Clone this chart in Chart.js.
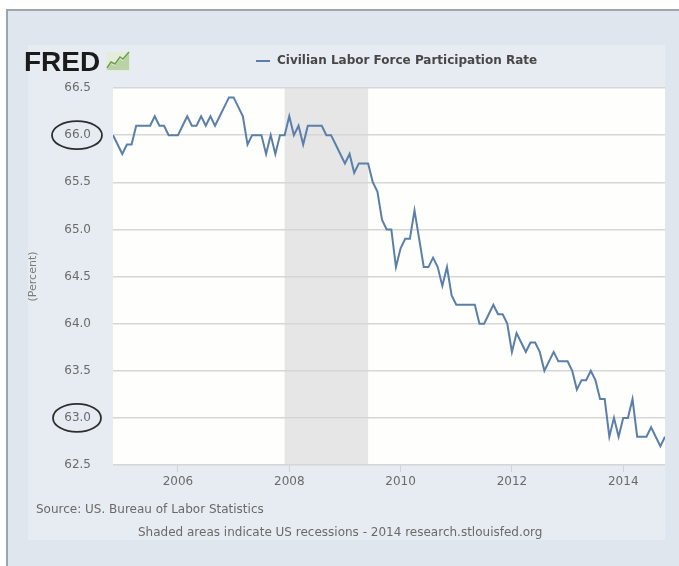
<!DOCTYPE html>
<html>
<head>
<meta charset="utf-8">
<script src="https://cdn.jsdelivr.net/npm/chart.js@4.4.1/dist/chart.umd.min.js"></script>
<style>
  html, body { margin: 0; padding: 0; background: #fff; }
  canvas { display: block; }
</style>
</head>
<body>
<canvas id="chart" width="679" height="566"></canvas>
<script>
// monthly civilian labor force participation rate, Nov 2004 - Oct 2014
const rate2004 = [66.0, 65.9];
const rate2005 = [65.8, 65.9, 65.9, 66.1, 66.1, 66.1, 66.1, 66.2, 66.1, 66.1, 66.0, 66.0];
const rate2006 = [66.0, 66.1, 66.2, 66.1, 66.1, 66.2, 66.1, 66.2, 66.1, 66.2, 66.3, 66.4];
const rate2007 = [66.4, 66.3, 66.2, 65.9, 66.0, 66.0, 66.0, 65.8, 66.0, 65.8, 66.0, 66.0];
const rate2008 = [66.2, 66.0, 66.1, 65.9, 66.1, 66.1, 66.1, 66.1, 66.0, 66.0, 65.9, 65.8];
const rate2009 = [65.7, 65.8, 65.6, 65.7, 65.7, 65.7, 65.5, 65.4, 65.1, 65.0, 65.0, 64.6];
const rate2010 = [64.8, 64.9, 64.9, 65.2, 64.9, 64.6, 64.6, 64.7, 64.6, 64.4, 64.6, 64.3];
const rate2011 = [64.2, 64.2, 64.2, 64.2, 64.2, 64.0, 64.0, 64.1, 64.2, 64.1, 64.1, 64.0];
const rate2012 = [63.7, 63.9, 63.8, 63.7, 63.8, 63.8, 63.7, 63.5, 63.6, 63.7, 63.6, 63.6];
const rate2013 = [63.6, 63.5, 63.3, 63.4, 63.4, 63.5, 63.4, 63.2, 63.2, 62.8, 63.0, 62.8];
const rate2014 = [63.0, 63.0, 63.2, 62.8, 62.8, 62.8, 62.9, 62.8, 62.7, 62.8];

const startYear = 2004, startMonth = 11; // first observation
const xTicks = [2006, 2008, 2010, 2012, 2014];
const xTickLabels = ['2006', '2008', '2010', '2012', '2014'];
const yTicks = [62.5, 63.0, 63.5, 64.0, 64.5, 65.0, 65.5, 66.0, 66.5];
const circledTicks = [66.0, 63.0];
const recession = [2007 + 11 / 12, 2009 + 5 / 12]; // Dec 2007 - Jun 2009

const seriesName = 'Civilian Labor Force Participation Rate';
const sourceText = 'Source: US. Bureau of Labor Statistics';
const noteText = 'Shaded areas indicate US recessions - 2014 research.stlouisfed.org';

const allRates = [].concat(rate2004, rate2005, rate2006, rate2007, rate2008, rate2009,
  rate2010, rate2011, rate2012, rate2013, rate2014);
const points = allRates.map((v, i) => ({ x: startYear + (startMonth - 1 + i) / 12, y: v }));

const lineColor = '#5a7fa9';
const font = 'DejaVu Sans';

// backgrounds, recession band, logo, legend, footer, circled labels
const fredDecor = {
  id: 'fredDecor',
  beforeDraw(chart) {
    const { ctx, chartArea: a, scales: { x } } = chart;
    ctx.save();
    ctx.fillStyle = '#ffffff';
    ctx.fillRect(0, 0, chart.width, chart.height);
    // outer frame
    ctx.fillStyle = '#dfe6ed';
    ctx.fillRect(7, 10, chart.width, chart.height);
    ctx.strokeStyle = '#9da6ae';
    ctx.lineWidth = 2;
    ctx.beginPath();
    ctx.moveTo(7, chart.height); ctx.lineTo(7, 10); ctx.lineTo(chart.width, 10);
    ctx.stroke();
    // inner panel
    ctx.fillStyle = '#e6ecf2';
    ctx.fillRect(28, 45, a.right - 28, 495);
    // plot area
    ctx.fillStyle = '#fefefc';
    ctx.fillRect(a.left, a.top, a.right - a.left, a.bottom - a.top);
    // recession
    const r0 = x.getPixelForValue(recession[0]);
    const r1 = x.getPixelForValue(recession[1]);
    ctx.fillStyle = '#e6e6e6';
    ctx.fillRect(r0, a.top, r1 - r0, a.bottom - a.top);
    ctx.restore();
  },
  afterDraw(chart) {
    const { ctx, scales: { y } } = chart;
    ctx.save();
    // logo
    ctx.fillStyle = '#1b1b1b';
    ctx.font = 'bold 28px "Liberation Sans"';
    ctx.textBaseline = 'alphabetic';
    ctx.textAlign = 'left';
    ctx.fillText('FRED', 24, 71);
    // little chart icon
    ctx.fillStyle = '#e4ecdc';
    ctx.fillRect(106, 52, 24, 19);
    ctx.fillStyle = '#b9d3a6';
    ctx.beginPath();
    ctx.moveTo(107, 70); ctx.lineTo(111, 64); ctx.lineTo(115, 66); ctx.lineTo(120, 59);
    ctx.lineTo(123, 61); ctx.lineTo(129, 53); ctx.lineTo(129, 70); ctx.closePath();
    ctx.fill();
    ctx.strokeStyle = '#6aa04a';
    ctx.lineWidth = 1.5;
    ctx.beginPath();
    ctx.moveTo(107, 68); ctx.lineTo(111, 62); ctx.lineTo(115, 64); ctx.lineTo(120, 57);
    ctx.lineTo(123, 59); ctx.lineTo(129, 52);
    ctx.stroke();
    // legend
    ctx.strokeStyle = lineColor;
    ctx.lineWidth = 2;
    ctx.beginPath();
    ctx.moveTo(256, 61); ctx.lineTo(270, 61);
    ctx.stroke();
    ctx.fillStyle = '#474747';
    ctx.font = 'bold 12px ' + font;
    ctx.textBaseline = 'middle';
    ctx.fillText(seriesName, 277, 61);
    // footer
    ctx.fillStyle = '#6a6a6a';
    ctx.font = '12px ' + font;
    ctx.fillText(sourceText, 36, 510);
    ctx.fillText(noteText, 138, 533);
    // hand drawn circles round two tick labels
    ctx.strokeStyle = '#2e2e2e';
    ctx.lineWidth = 1.8;
    circledTicks.forEach((v, i) => {
      const cy = y.getPixelForValue(v);
      ctx.beginPath();
      ctx.ellipse(77, cy, i === 0 ? 25 : 24, 14, 0, 0, Math.PI * 2);
      ctx.stroke();
    });
    ctx.restore();
  }
};

new Chart(document.getElementById('chart'), {
  type: 'line',
  data: {
    datasets: [{
      label: seriesName,
      data: points,
      borderColor: lineColor,
      borderWidth: 2,
      pointRadius: 0,
      tension: 0,
      fill: false
    }]
  },
  options: {
    responsive: false,
    animation: false,
    devicePixelRatio: 1,
    layout: { padding: { left: 25, right: 14, top: 88, bottom: 71 } },
    plugins: { legend: { display: false }, tooltip: { enabled: false } },
    scales: {
      x: {
        type: 'linear',
        min: points[0].x,
        max: points[points.length - 1].x,
        afterBuildTicks: s => { s.ticks = xTicks.map(v => ({ value: v })); },
        afterFit: s => { s.height = 30; },
        ticks: {
          callback: (v, i) => xTickLabels[i],
          color: '#6b6b6b',
          font: { family: font, size: 12 },
          padding: 3,
          maxRotation: 0
        },
        grid: { drawOnChartArea: false, drawTicks: true, tickLength: 7, color: '#cdd4db' },
        border: { display: false }
      },
      y: {
        min: 62.5,
        max: 66.5,
        afterBuildTicks: s => { s.ticks = yTicks.map(v => ({ value: v })); },
        afterFit: s => { s.width = 88; },
        ticks: {
          callback: v => v.toFixed(1),
          color: '#6b6b6b',
          font: { family: font, size: 12 },
          padding: 22
        },
        grid: { color: '#d6d6d6', lineWidth: 1.5, drawTicks: false },
        border: { display: false },
        title: {
          display: true,
          text: '(Percent)',
          color: '#7a7a7a',
          font: { family: font, size: 11 },
          padding: { top: 2, bottom: 0 }
        }
      }
    }
  },
  plugins: [fredDecor]
});
</script>
</body>
</html>
